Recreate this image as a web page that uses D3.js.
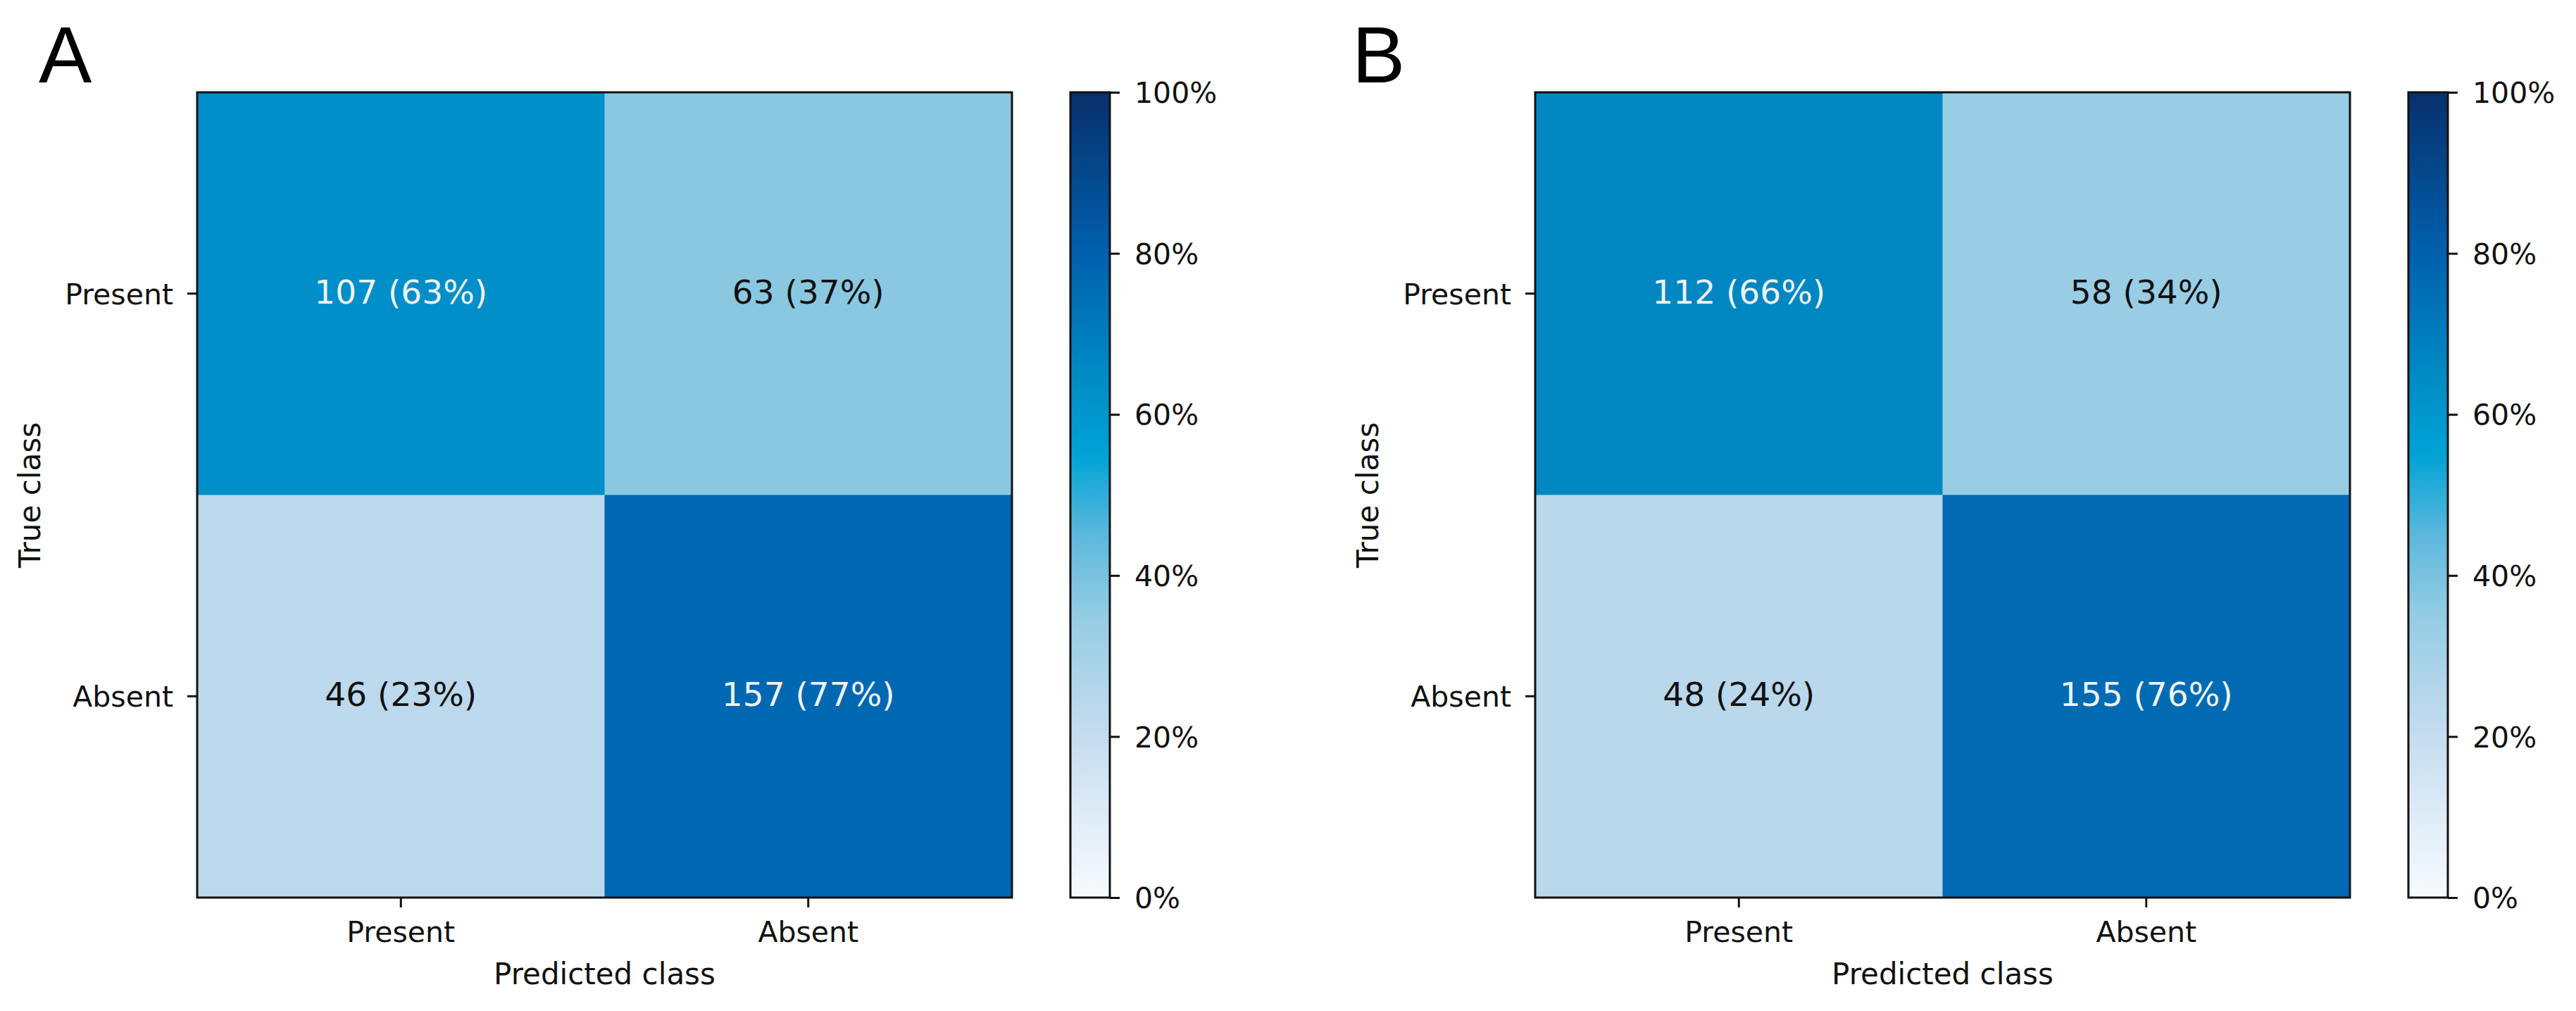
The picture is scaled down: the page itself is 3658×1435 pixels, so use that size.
<!DOCTYPE html>
<html>
<head>
<meta charset="utf-8">
<script src="https://cdn.jsdelivr.net/npm/d3@7"></script>
<style>
  html, body { margin: 0; padding: 0; background: #fff; }
  svg { display: block; }
  text { font-family: "DejaVu Sans", sans-serif; }
</style>
</head>
<body>
<div id="vis"></div>
<script>
// confusion matrices for two models, rows = true class, cols = predicted class
const classes = ['Present', 'Absent'];
const panelNames = ['A', 'B'];
const countsA = [[107, 63], [46, 157]];
const countsB = [[112, 58], [48, 155]];
const pctA = [[63, 37], [23, 77]];
const pctB = [[66, 34], [24, 76]];
const cbarTicks = [0, 20, 40, 60, 80, 100];

const panels = [
  { name: panelNames[0], counts: countsA, pct: pctA },
  { name: panelNames[1], counts: countsB, pct: pctB }
];

const W = 3658, H = 1435;
const panelShift = 1900;

// colour map: white -> light blue -> cyan -> navy
const color = d3.scaleLinear()
  .domain([0, 20, 35, 45, 55, 65, 80, 100])
  .range(['#f7fbff', '#c6dcef', '#95cce4', '#5cb8dc', '#00a3d6', '#008ac4', '#0060ad', '#08306b'])
  .interpolate(d3.interpolateRgb);

const svg = d3.select('#vis').append('svg')
  .attr('width', W).attr('height', H)
  .attr('viewBox', `0 0 ${W} ${H}`);

panels.forEach((p, i) => {
  const g = svg.append('g').attr('transform', `translate(${i * panelShift},0)`);

  const x = d3.scaleBand().domain(classes).range([280, 1437]);
  const y = d3.scaleBand().domain(classes).range([131, 1274]);

  // cells
  const cells = [];
  classes.forEach((tc, r) => classes.forEach((pc, c) => {
    cells.push({ t: tc, p: pc, n: p.counts[r][c], v: p.pct[r][c] });
  }));

  g.selectAll('rect.cell').data(cells).enter().append('rect')
    .attr('class', 'cell')
    .attr('x', d => x(d.p)).attr('y', d => y(d.t))
    .attr('width', x.bandwidth() + 0.5).attr('height', y.bandwidth() + 0.5)
    .attr('fill', d => color(d.v));

  g.selectAll('text.cell').data(cells).enter().append('text')
    .attr('class', 'cell')
    .attr('x', d => x(d.p) + x.bandwidth() / 2)
    .attr('y', d => y(d.t) + y.bandwidth() / 2)
    .attr('dy', '0.3em')
    .attr('text-anchor', 'middle')
    .style('font-size', '47px')
    .attr('fill', d => d.v > 50 ? '#eef3f8' : '#111')
    .text(d => `${d.n} (${d.v}%)`);

  // frame
  g.append('rect')
    .attr('x', 280).attr('y', 131)
    .attr('width', 1437 - 280).attr('height', 1274 - 131)
    .attr('fill', 'none').attr('stroke', '#111').attr('stroke-width', 3);

  // axes
  const ax = g.append('g').attr('transform', 'translate(0,1274)')
    .call(d3.axisBottom(x).tickSize(14).tickPadding(20));
  const ay = g.append('g').attr('transform', 'translate(280,0)')
    .call(d3.axisLeft(y).tickSize(14).tickPadding(20));
  [ax, ay].forEach(a => {
    a.select('.domain').remove();
    a.selectAll('.tick line').attr('stroke', '#111').attr('stroke-width', 3);
    a.selectAll('.tick text').style('font-size', '41px').attr('fill', '#111')
      .style('font-family', '"DejaVu Sans", sans-serif');
  });
  ay.selectAll('.tick text').attr('dy', '0.37em');

  g.append('text')
    .attr('x', (280 + 1437) / 2).attr('y', 1397)
    .attr('text-anchor', 'middle').style('font-size', '42px').attr('fill', '#111')
    .text('Predicted class');

  g.append('text')
    .attr('transform', `translate(57,${(131 + 1274) / 2}) rotate(-90)`)
    .attr('text-anchor', 'middle').style('font-size', '42px').attr('fill', '#111')
    .text('True class');

  // colour bar
  const cb = d3.scaleLinear().domain([0, 100]).range([1274, 131]);
  const gradId = 'grad' + i;
  const grad = svg.append('defs').append('linearGradient')
    .attr('id', gradId).attr('x1', 0).attr('y1', 1).attr('x2', 0).attr('y2', 0);
  d3.range(0, 101, 5).forEach(v => {
    grad.append('stop').attr('offset', v / 100).attr('stop-color', color(v));
  });
  g.append('rect')
    .attr('x', 1520).attr('y', 131).attr('width', 56).attr('height', 1274 - 131)
    .attr('fill', `url(#${gradId})`)
    .attr('stroke', '#111').attr('stroke-width', 3);
  const ac = g.append('g').attr('transform', 'translate(1576,0)')
    .call(d3.axisRight(cb).tickValues(cbarTicks).tickFormat(d => d + '%').tickSize(14).tickPadding(21));
  ac.select('.domain').remove();
  ac.selectAll('.tick line').attr('stroke', '#111').attr('stroke-width', 3);
  ac.selectAll('.tick text').style('font-size', '41px').attr('fill', '#111')
    .style('font-family', '"DejaVu Sans", sans-serif').attr('dy', '0.36em');

  // panel letter
  svg.append('text')
    .attr('x', i === 0 ? 55 : 1920).attr('y', 117)
    .style('font-family', '"Liberation Sans", Arial, sans-serif')
    .style('font-size', '113px').attr('fill', '#000')
    .text(p.name);
});
</script>
</body>
</html>
